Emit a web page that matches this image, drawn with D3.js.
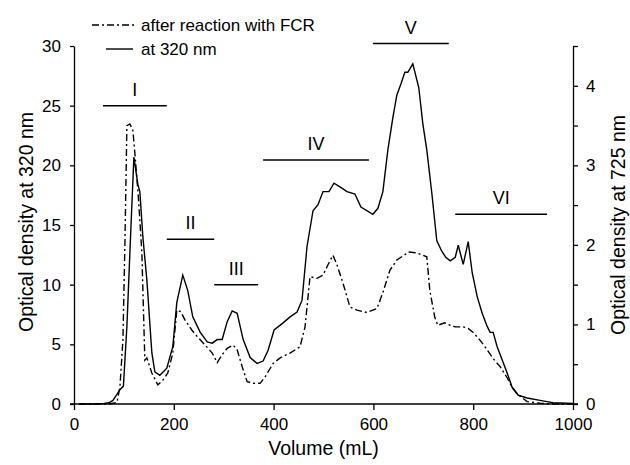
<!DOCTYPE html>
<html>
<head>
<meta charset="utf-8">
<script src="https://cdn.jsdelivr.net/npm/d3@7"></script>
<style>
  body { margin: 0; background: #fff; }
  text { font-family: "Liberation Sans", Arial, sans-serif; fill: #000; }
</style>
</head>
<body>
<svg id="chart" width="630" height="465"></svg>
<script>
// solid line, optical density at 320 nm (left axis) : [volume mL, OD]
const solid320 = [
  [10,0],[40,0],[60,0.05],[70,0.1],[78,0.3],[86,0.8],[92,1.2],[99,1.5],[106,6.5],[112,12.7],[120,20.7],
  [128,18.4],[132,17.8],[138,14],[146,10.4],[156,4.3],[162,2.7],[172,2.4],[186,3.0],[198,4.8],
  [206,8.5],[218,10.8],[228,9.5],[238,7.3],[253,6.0],[267,5.2],[277,5.1],[287,5.4],[297,5.4],
  [307,6.9],[317,7.8],[327,7.6],[339,5.4],[353,3.9],[367,3.4],[379,3.6],[389,4.5],[401,6.2],
  [419,6.8],[433,7.3],[447,7.7],[457,8.7],[467,13.2],[479,16.2],[489,16.7],[499,17.8],[511,17.8],
  [521,18.5],[533,18.2],[547,17.8],[563,17.6],[575,16.5],[599,15.9],[609,16.4],[619,17.8],
  [629,21.3],[639,24],[647,25.9],[655,26.8],[663,27.8],[669,27.8],[679,28.5],[691,26.5],
  [699,23.5],[707,21.3],[717,17.7],[727,13.7],[737,12.8],[745,12.3],[754,12.0],[764,12.3],
  [770,13.3],[780,11.7],[790,13.6],[798,11.0],[808,9.0],[818,7.6],[828,6.5],[834,6.0],[840,6.0],
  [848,4.8],[858,3.7],[868,2.6],[878,1.4],[890,0.75],[908,0.5],[934,0.3],[948,0.2],[960,0.1],[1000,0.05]
];

// dash-dot line, after reaction with FCR, OD at 725 nm (right axis)
const fcr725 = [
  [10,0],[40,0],[70,0],[86,0.02],[92,0.21],[98,0.8],[102,2.0],[106,3.5],[112,3.52],[118,3.44],
  [122,3.15],[129,2.6],[136,1.9],[142,0.55],[146,0.58],[156,0.39],[168,0.24],[178,0.3],[188,0.39],
  [198,0.64],[206,1.18],[214,1.16],[222,1.06],[236,0.93],[248,0.84],[263,0.74],[277,0.64],
  [287,0.52],[297,0.62],[307,0.7],[319,0.74],[327,0.68],[337,0.47],[347,0.28],[359,0.26],
  [373,0.26],[383,0.34],[399,0.51],[413,0.58],[433,0.64],[453,0.72],[463,0.97],[473,1.6],
  [487,1.58],[499,1.62],[509,1.75],[519,1.87],[527,1.75],[539,1.52],[553,1.22],[567,1.18],
  [587,1.15],[607,1.2],[619,1.4],[633,1.68],[647,1.81],[659,1.86],[671,1.91],[687,1.9],
  [707,1.85],[713,1.43],[723,1.09],[729,0.99],[743,1.02],[754,0.99],[764,0.97],[780,0.97],
  [790,0.95],[800,0.9],[814,0.8],[828,0.68],[840,0.57],[854,0.47],[868,0.33],[878,0.21],
  [888,0.13],[908,0.03],[934,0.01],[960,0],[1000,0]
];

// fraction bars (volume range, height on the left axis)
const sectionNames = ["I", "II", "III", "IV", "V", "VI"];
const sectionFrom  = [58, 186, 281, 379, 599, 764];
const sectionTo    = [186, 281, 369, 591, 751, 948];
const sectionLevel = [25, 13.8, 10.0, 20.45, 30.2, 15.9];

const xTicks = [0, 200, 400, 600, 800, 1000];
const leftTicks = [0, 5, 10, 15, 20, 25, 30];
const rightTicks = [0, 0.5, 1, 1.5, 2, 2.5, 3, 3.5, 4, 4.5];

const legendNames = ["after reaction with FCR", "at 320 nm"];

const svg = d3.select("#chart");
const mLeft = 74, mRight = 573, mTop = 46, mBottom = 404;

const x = d3.scaleLinear().domain([0, 1000]).range([mLeft, mRight]);
const yL = d3.scaleLinear().domain([0, 30]).range([mBottom, mTop]);
const yR = d3.scaleLinear().domain([0, 4.5]).range([mBottom, mTop]);

// axes
const xAxis = svg.append("g")
  .attr("transform", `translate(0,${mBottom})`)
  .call(d3.axisBottom(x).tickValues(xTicks).tickFormat(d3.format("d"))
    .tickSize(6).tickPadding(8).tickSizeOuter(0));

const lAxis = svg.append("g")
  .attr("transform", `translate(${mLeft},0)`)
  .call(d3.axisLeft(yL).tickValues(leftTicks).tickSize(4).tickPadding(9).tickSizeOuter(0));

const rAxis = svg.append("g")
  .attr("transform", `translate(${mRight},0)`)
  .call(d3.axisRight(yR).tickValues(rightTicks).tickSize(5).tickPadding(8).tickSizeOuter(0)
    .tickFormat(d => Number.isInteger(d) ? d : ""));

[xAxis, lAxis, rAxis].forEach(g => {
  g.selectAll("path, line").attr("stroke", "#000").attr("stroke-width", 1.3);
  g.selectAll("text").style("font-size", "17px").attr("fill", "#000");
});
// x axis line spans the whole width incl. the 0 ticks of both y axes
xAxis.select(".domain").attr("d", `M${mLeft - 4},0H${mRight + 5}`);

// lines
const line = (ys) => d3.line().x(d => x(d[0])).y(d => ys(d[1]));

svg.append("path")
  .datum(fcr725)
  .attr("d", line(yR))
  .attr("fill", "none")
  .attr("stroke", "#000")
  .attr("stroke-width", 1.4)
  .attr("stroke-dasharray", "7,3,2,3");

svg.append("path")
  .datum(solid320)
  .attr("d", line(yL))
  .attr("fill", "none")
  .attr("stroke", "#000")
  .attr("stroke-width", 1.4);

// fraction bars + labels
sectionNames.forEach((name, i) => {
  svg.append("line")
    .attr("x1", x(sectionFrom[i])).attr("x2", x(sectionTo[i]))
    .attr("y1", yL(sectionLevel[i])).attr("y2", yL(sectionLevel[i]))
    .attr("stroke", "#000").attr("stroke-width", 1.5);
  svg.append("text")
    .attr("x", x((sectionFrom[i] + sectionTo[i]) / 2))
    .attr("y", yL(sectionLevel[i]) - 10)
    .attr("text-anchor", "middle")
    .style("font-size", "18px")
    .text(name);
});

// axis titles
svg.append("text")
  .attr("x", (mLeft + mRight) / 2).attr("y", 455)
  .attr("text-anchor", "middle").style("font-size", "19.5px")
  .text("Volume (mL)");

svg.append("text")
  .attr("transform", "translate(33,222) rotate(-90)")
  .attr("text-anchor", "middle").style("font-size", "19.5px")
  .text("Optical density at 320 nm");

svg.append("text")
  .attr("transform", "translate(625,225) rotate(-90)")
  .attr("text-anchor", "middle").style("font-size", "19.5px")
  .text("Optical density at 725 nm");

// legend
const legend = svg.append("g");
legend.append("line").attr("x1", 92).attr("x2", 135).attr("y1", 25).attr("y2", 25)
  .attr("stroke", "#000").attr("stroke-width", 1.4).attr("stroke-dasharray", "7,3,2,3");
legend.append("line").attr("x1", 106).attr("x2", 133).attr("y1", 49).attr("y2", 49)
  .attr("stroke", "#000").attr("stroke-width", 1.4);
legend.selectAll("text.lg").data(legendNames).join("text")
  .attr("class", "lg")
  .attr("x", 141).attr("y", (d, i) => 31 + i * 24)
  .style("font-size", "17px")
  .text(d => d);
</script>
</body>
</html>
